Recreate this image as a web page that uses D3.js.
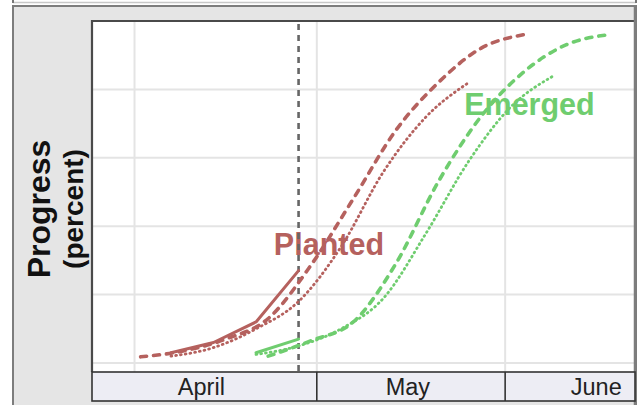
<!DOCTYPE html>
<html><head><meta charset="utf-8">
<script src="https://cdn.jsdelivr.net/npm/d3@7"></script>
<style>body{margin:0;background:#fff;} svg{display:block;font-family:"Liberation Sans",Arial,sans-serif;}</style>
</head><body>
<svg id="c" width="643" height="405"></svg>
<script>
// ---- data ----
const months = ["April", "May", "June"];
const monthStarts = ["2024-04-01", "2024-05-01", "2024-06-01"];
const monthLabelDates = ["2024-04-12", "2024-05-16", "2024-06-16"];
const yTicks = [0, 20, 40, 60, 80, 100];
const currentWeek = "2024-04-28";

const plantedThisYearDates = ["2024-04-07", "2024-04-14", "2024-04-21", "2024-04-28"];
const plantedThisYear = [3, 6, 12, 27];
const plantedAvgDates = ["2024-04-02", "2024-04-09", "2024-04-16", "2024-04-23", "2024-04-30", "2024-05-07", "2024-05-14", "2024-05-21", "2024-05-28", "2024-06-04"];
const plantedAvg = [1.8, 3.5, 7, 13, 28.5, 48, 68, 82, 92, 96];
const plantedLastYearDates = ["2024-04-07", "2024-04-14", "2024-04-21", "2024-04-28", "2024-05-05", "2024-05-12", "2024-05-19", "2024-05-26"];
const plantedLastYear = [2, 4.5, 10, 18, 34, 56, 72, 82];

const emergedThisYearDates = ["2024-04-21", "2024-04-28"];
const emergedThisYear = [3, 7];
const emergedAvgDates = ["2024-04-23", "2024-04-30", "2024-05-07", "2024-05-14", "2024-05-21", "2024-05-28", "2024-06-04", "2024-06-11", "2024-06-18"];
const emergedAvg = [2, 6.5, 12, 29, 53, 72, 85, 93, 96];
const emergedLastYearDates = ["2024-04-21", "2024-04-28", "2024-05-05", "2024-05-12", "2024-05-19", "2024-05-26", "2024-06-02", "2024-06-09"];
const emergedLastYear = [2.5, 5, 10, 19, 38, 59, 75, 84];

const labels = ["Planted", "Emerged"];
const labelDates = ["2024-05-03", "2024-06-05"];
const labelValues = [31.6, 72.5];

// ---- drawing ----
const parse = d3.utcParse("%Y-%m-%d");
const svg = d3.select("#c");
const pl = 92, pr = 634, pt = 21, pb = 372;
const brown = "#b5615e", green = "#6fcd6f";

const x = d3.scaleUtc().domain([Date.UTC(2024,2,25), Date.UTC(2024,5,22,5)]).range([pl, pr]);
const y = d3.scaleLinear().domain([0, 100]).range([363, pt]);

// top remnant line
svg.append("line").attr("x1", 13).attr("x2", 636).attr("y1", 2.5).attr("y2", 2.5).attr("stroke", "#c8c8c8").attr("stroke-width", 1.5);
svg.append("line").attr("x1", 13).attr("x2", 13).attr("y1", 0).attr("y2", 3).attr("stroke", "#777").attr("stroke-width", 2);
svg.append("line").attr("x1", 636).attr("x2", 636).attr("y1", 0).attr("y2", 3).attr("stroke", "#777").attr("stroke-width", 2);
// frame
svg.append("rect").attr("x", 13).attr("y", 6).attr("width", 623).attr("height", 420).attr("fill", "#e5e5e5").attr("stroke", "#7d7d7d").attr("stroke-width", 2);
// plot area
svg.append("rect").attr("x", pl).attr("y", pt).attr("width", pr - pl).attr("height", pb - pt).attr("fill", "#fff");

// grid
const grid = svg.append("g");
grid.selectAll("line.h").data(yTicks).join("line").attr("class", "h")
  .attr("x1", pl).attr("x2", pr).attr("y1", d => y(d)).attr("y2", d => y(d))
  .attr("stroke", "#e4e4e4").attr("stroke-width", 2);
grid.selectAll("line.v").data(monthStarts).join("line").attr("class", "v")
  .attr("x1", d => x(parse(d))).attr("x2", d => x(parse(d))).attr("y1", pt).attr("y2", pb)
  .attr("stroke", "#e4e4e4").attr("stroke-width", 2);

// plot border
svg.append("path").attr("d", `M${pl},${pb}V${pt}H${pr}`).attr("fill", "none").attr("stroke", "#4a4a4a").attr("stroke-width", 2.2);
svg.append("line").attr("x1", pr + 1).attr("x2", pr + 1).attr("y1", 6).attr("y2", 405).attr("stroke", "#7d7d7d").attr("stroke-width", 2.5);

// labels (under lines)
svg.selectAll("text.lab").data(labels).join("text").attr("class", "lab")
  .attr("x", (d, i) => x(parse(labelDates[i]))).attr("y", (d, i) => y(labelValues[i]))
  .attr("text-anchor", "middle").attr("font-size", 30.5).attr("font-weight", "bold")
  .attr("fill", (d, i) => i === 0 ? brown : green).text(d => d);

// current week line
svg.append("line").attr("x1", x(parse(currentWeek))).attr("x2", x(parse(currentWeek)))
  .attr("y1", pt + 3).attr("y2", pb).attr("stroke", "#666").attr("stroke-width", 2.6).attr("stroke-dasharray", "6,5");

// series
function series(dates, vals, color, style) {
  const pts = dates.map((d, i) => [x(parse(d)), y(vals[i])]);
  const line = d3.line().curve(style === "solid" ? d3.curveLinear : d3.curveMonotoneX);
  const p = svg.append("path").attr("d", line(pts)).attr("fill", "none").attr("stroke", color)
    .attr("stroke-linecap", "round").attr("stroke-linejoin", "round");
  if (style === "solid") p.attr("stroke-width", 3);
  if (style === "dashed") p.attr("stroke-width", 3.6).attr("stroke-dasharray", "6,7");
  if (style === "dotted") p.attr("stroke-width", 2.8).attr("stroke-dasharray", "0.8,4");
}
series(plantedAvgDates, plantedAvg, brown, "dashed");
series(plantedLastYearDates, plantedLastYear, brown, "dotted");
series(plantedThisYearDates, plantedThisYear, brown, "solid");
series(emergedAvgDates, emergedAvg, green, "dashed");
series(emergedLastYearDates, emergedLastYear, green, "dotted");
series(emergedThisYearDates, emergedThisYear, green, "solid");

// x axis band
const bandTop = 372, bandBot = 401;
svg.append("rect").attr("x", pl).attr("y", bandTop).attr("width", pr - pl + 1).attr("height", bandBot - bandTop)
  .attr("fill", "#ededf4").attr("stroke", "#333").attr("stroke-width", 1.6);
svg.selectAll("line.div").data(monthStarts.slice(1)).join("line").attr("class", "div")
  .attr("x1", d => x(parse(d))).attr("x2", d => x(parse(d))).attr("y1", bandTop).attr("y2", bandBot)
  .attr("stroke", "#333").attr("stroke-width", 1.6);
svg.selectAll("text.mon").data(months).join("text").attr("class", "mon")
  .attr("x", (d, i) => x(parse(monthLabelDates[i]))).attr("y", 394.5)
  .attr("text-anchor", "middle").attr("font-size", 23.5).attr("fill", "#222").text(d => d);

// y axis title
svg.append("text").attr("transform", "translate(50,209) rotate(-90)").attr("text-anchor", "middle")
  .attr("font-size", 32).attr("font-weight", "bold").attr("fill", "#111").text("Progress");
svg.append("text").attr("transform", "translate(83,209) rotate(-90)").attr("text-anchor", "middle")
  .attr("font-size", 28).attr("font-weight", "bold").attr("fill", "#111").text("(percent)");
</script>
</body></html>
